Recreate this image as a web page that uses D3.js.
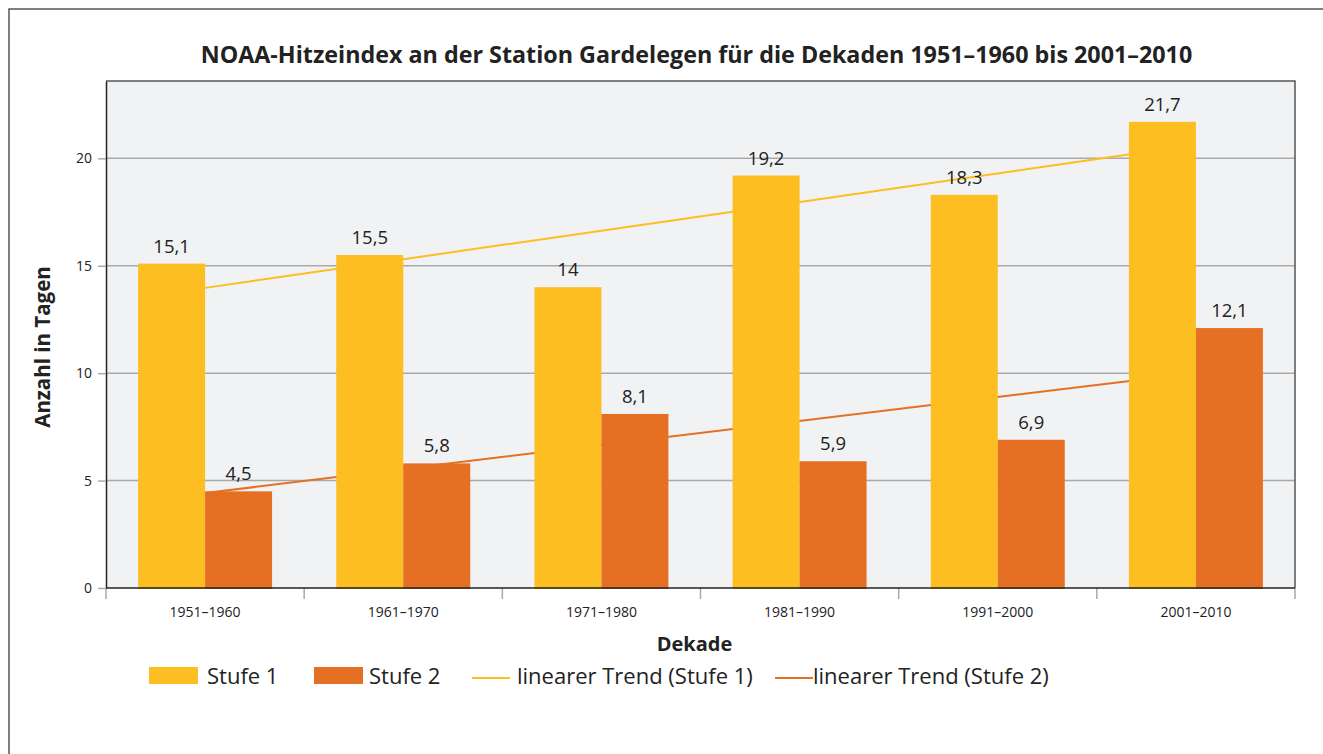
<!DOCTYPE html>
<html>
<head>
<meta charset="utf-8">
<script src="https://cdn.jsdelivr.net/npm/d3@7"></script>
<style>
  body { margin: 0; background: #fff; }
  text { font-family: "Open Sans", "Noto Sans", sans-serif; fill: #222; }
</style>
</head>
<body>
<div id="chart"></div>
<script>
// decades on the x axis
var decades = ["1951–1960", "1961–1970", "1971–1980", "1981–1990", "1991–2000", "2001–2010"];
// number of days per decade
var stufe1 = [15.1, 15.5, 14, 19.2, 18.3, 21.7];
var stufe2 = [4.5, 5.8, 8.1, 5.9, 6.9, 12.1];
// linear trend, value at first and last decade
var trend1 = [13.97, 20.63];
var trend2 = [4.42, 10.01];
var yTicks = [0, 5, 10, 15, 20];
var seriesNames = ["Stufe 1", "Stufe 2"];

var colors = { s1: "#fcbe20", s2: "#e57024" };

var W = 1323, H = 754;
var margin = {top: 81, right: 28, bottom: 166, left: 106},
    width = W - margin.left - margin.right,
    height = H - margin.top - margin.bottom;

var svg = d3.select("#chart").append("svg")
    .attr("width", W)
    .attr("height", H);

// outer frame
svg.append("rect")
    .attr("x", 9).attr("y", 9)
    .attr("width", W + 20).attr("height", H + 20)
    .attr("fill", "none").attr("stroke", "#555").attr("stroke-width", 1.5);

// title
svg.append("text")
    .attr("x", margin.left + width / 2 - 4)
    .attr("y", 63)
    .attr("text-anchor", "middle")
    .style("font-size", "23.3px")
    .style("font-weight", "bold")
    .text("NOAA-Hitzeindex an der Station Gardelegen für die Dekaden 1951–1960 bis 2001–2010");

var g = svg.append("g")
    .attr("transform", "translate(" + margin.left + "," + margin.top + ")");

// scales
var x = d3.scaleBand().domain(decades).range([0, width]);
var x1 = d3.scaleBand().domain(seriesNames)
    .range([x.bandwidth() / 2 - 67, x.bandwidth() / 2 + 67]);
var y = d3.scaleLinear().domain([0, 23.6]).range([height, 0]);

// plot background
g.append("rect")
    .attr("width", width).attr("height", height)
    .attr("fill", "#f1f2f4");

// gridlines
g.selectAll(".grid")
    .data(yTicks.filter(function(d) { return d > 0; }))
    .enter().append("line")
    .attr("class", "grid")
    .attr("x1", 0).attr("x2", width)
    .attr("y1", function(d) { return y(d); })
    .attr("y2", function(d) { return y(d); })
    .attr("stroke", "#a9a9a9").attr("stroke-width", 1.5);

// plot border top/right
g.append("path")
    .attr("d", "M0,0H" + width + "V" + height)
    .attr("fill", "none").attr("stroke", "#555").attr("stroke-width", 1.5);

// trend lines (behind bars)
var trendLine = d3.line()
    .x(function(d) { return x(d.cat) + x.bandwidth() / 2; })
    .y(function(d) { return y(d.v); });

[[trend1, colors.s1], [trend2, colors.s2]].forEach(function(t) {
    var pts = [{cat: decades[0], v: t[0][0]}, {cat: decades[decades.length - 1], v: t[0][1]}];
    g.append("path")
        .datum(pts)
        .attr("d", trendLine)
        .attr("fill", "none")
        .attr("stroke", t[1])
        .attr("stroke-width", 2);
});

// bars
var rows = decades.map(function(d, i) {
    return {cat: d, values: [{key: "Stufe 1", v: stufe1[i]}, {key: "Stufe 2", v: stufe2[i]}]};
});

var groups = g.selectAll(".grp")
    .data(rows)
    .enter().append("g")
    .attr("class", "grp")
    .attr("transform", function(d) { return "translate(" + x(d.cat) + ",0)"; });

groups.selectAll("rect")
    .data(function(d) { return d.values; })
    .enter().append("rect")
    .attr("x", function(d) { return x1(d.key); })
    .attr("y", function(d) { return y(d.v); })
    .attr("width", x1.bandwidth())
    .attr("height", function(d) { return height - y(d.v) + 1; })
    .attr("fill", function(d) { return d.key === "Stufe 1" ? colors.s1 : colors.s2; });

groups.selectAll(".val")
    .data(function(d) { return d.values; })
    .enter().append("text")
    .attr("class", "val")
    .attr("x", function(d) { return x1(d.key) + x1.bandwidth() / 2; })
    .attr("y", function(d) { return y(d.v) - 11; })
    .attr("text-anchor", "middle")
    .style("font-size", "18.5px")
    .text(function(d) { return String(d.v).replace(".", ","); });

// y axis
var yAxis = g.append("g")
    .call(d3.axisLeft(y).tickValues(yTicks).tickSizeInner(8).tickSizeOuter(0).tickPadding(6));
yAxis.select(".domain").attr("stroke", "#222").attr("stroke-width", 1.5);
yAxis.selectAll(".tick line").attr("stroke", "#a9a9a9").attr("stroke-width", 1.5);
yAxis.selectAll(".tick text").style("font-size", "14px").attr("fill", "#222")
    .style("font-family", "'Open Sans', sans-serif");

// x axis
var xAxis = g.append("g")
    .attr("transform", "translate(0," + height + ")")
    .call(d3.axisBottom(x).tickSize(0).tickPadding(19));
xAxis.select(".domain").remove();
xAxis.selectAll(".tick text").style("font-size", "14px").attr("fill", "#222")
    .style("font-family", "'Open Sans', sans-serif");

// boundary ticks
g.selectAll(".xtick")
    .data(decades.concat(["end"]))
    .enter().append("line")
    .attr("class", "xtick")
    .attr("x1", function(d) { return d === "end" ? width : x(d); })
    .attr("x2", function(d) { return d === "end" ? width : x(d); })
    .attr("y1", height).attr("y2", height + 11)
    .attr("stroke", "#a9a9a9").attr("stroke-width", 1.5);

g.append("line")
    .attr("x1", 0).attr("x2", width)
    .attr("y1", height).attr("y2", height)
    .attr("stroke", "#222").attr("stroke-width", 1.5);

// axis titles
svg.append("text")
    .attr("x", margin.left + width / 2 - 6)
    .attr("y", 651)
    .attr("text-anchor", "middle")
    .style("font-size", "20px").style("font-weight", "bold")
    .text("Dekade");

svg.append("text")
    .attr("transform", "translate(50,347) rotate(-90)")
    .attr("text-anchor", "middle")
    .style("font-size", "20.5px").style("font-weight", "bold")
    .text("Anzahl in Tagen");

// legend
var legend = [
    {label: "Stufe 1", type: "rect", color: colors.s1, x: 149, tx: 207},
    {label: "Stufe 2", type: "rect", color: colors.s2, x: 314, tx: 369},
    {label: "linearer Trend (Stufe 1)", type: "line", color: colors.s1, x: 472, tx: 517},
    {label: "linearer Trend (Stufe 2)", type: "line", color: colors.s2, x: 775, tx: 813}
];
var lg = svg.selectAll(".leg").data(legend).enter().append("g").attr("class", "leg");
lg.filter(function(d) { return d.type === "rect"; }).append("rect")
    .attr("x", function(d) { return d.x; }).attr("y", 667)
    .attr("width", 49).attr("height", 17)
    .attr("fill", function(d) { return d.color; });
lg.filter(function(d) { return d.type === "line"; }).append("line")
    .attr("x1", function(d) { return d.x; })
    .attr("x2", function(d) { return d.x + 38; })
    .attr("y1", 678).attr("y2", 678)
    .attr("stroke", function(d) { return d.color; }).attr("stroke-width", 2);
lg.append("text")
    .attr("x", function(d) { return d.tx; })
    .attr("y", 684)
    .style("font-size", "22px")
    .text(function(d) { return d.label; });
</script>
</body>
</html>
